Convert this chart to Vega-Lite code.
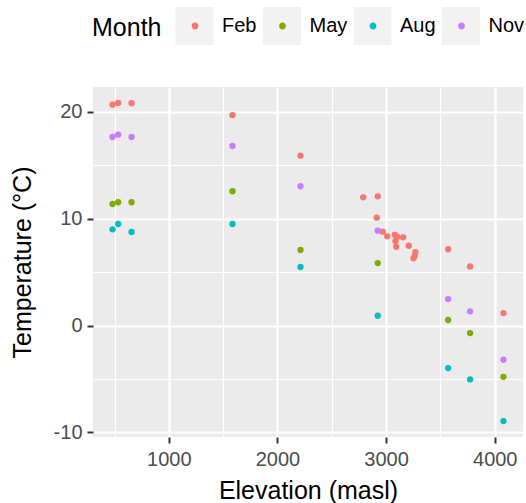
{
  "$schema": "https://vega.github.io/schema/vega-lite/v6.json",
  "width": 430,
  "height": 350,
  "autosize": {"type": "none"},
  "padding": {"left": 93, "top": 87, "right": 3, "bottom": 66},
  "background": "white",
  "config": {
    "font": "Liberation Sans",
    "view": {"fill": "#EBEBEB", "stroke": null},
    "axis": {
      "labelFontSize": 20,
      "labelColor": "#4D4D4D",
      "tickColor": "#333333",
      "tickWidth": 2,
      "tickSize": 6,
      "domain": false,
      "titleFontSize": 25,
      "titleFontWeight": "normal",
      "titleColor": "black",
      "gridColor": "white"
    }
  },
  "data": {
    "values": [
      {"Month": "Feb", "Elevation": 482, "Temperature": 20.68},
      {"Month": "Feb", "Elevation": 534, "Temperature": 20.84},
      {"Month": "Feb", "Elevation": 657, "Temperature": 20.81},
      {"Month": "Feb", "Elevation": 1586, "Temperature": 19.69},
      {"Month": "Feb", "Elevation": 2212, "Temperature": 15.9},
      {"Month": "Feb", "Elevation": 2789, "Temperature": 12.0},
      {"Month": "Feb", "Elevation": 2923, "Temperature": 12.1},
      {"Month": "Feb", "Elevation": 2914, "Temperature": 10.1},
      {"Month": "Feb", "Elevation": 2969, "Temperature": 8.79},
      {"Month": "Feb", "Elevation": 3010, "Temperature": 8.35},
      {"Month": "Feb", "Elevation": 3080, "Temperature": 8.48},
      {"Month": "Feb", "Elevation": 3102, "Temperature": 8.32},
      {"Month": "Feb", "Elevation": 3086, "Temperature": 7.91},
      {"Month": "Feb", "Elevation": 3157, "Temperature": 8.26},
      {"Month": "Feb", "Elevation": 3093, "Temperature": 7.38},
      {"Month": "Feb", "Elevation": 3209, "Temperature": 7.47},
      {"Month": "Feb", "Elevation": 3270, "Temperature": 6.88},
      {"Month": "Feb", "Elevation": 3264, "Temperature": 6.54},
      {"Month": "Feb", "Elevation": 3252, "Temperature": 6.29},
      {"Month": "Feb", "Elevation": 3571, "Temperature": 7.14},
      {"Month": "Feb", "Elevation": 3773, "Temperature": 5.54},
      {"Month": "Feb", "Elevation": 4080, "Temperature": 1.17},
      {"Month": "May", "Elevation": 482, "Temperature": 11.38},
      {"Month": "May", "Elevation": 534, "Temperature": 11.54},
      {"Month": "May", "Elevation": 657, "Temperature": 11.54},
      {"Month": "May", "Elevation": 1586, "Temperature": 12.57},
      {"Month": "May", "Elevation": 2212, "Temperature": 7.07},
      {"Month": "May", "Elevation": 2923, "Temperature": 5.85},
      {"Month": "May", "Elevation": 3571, "Temperature": 0.52},
      {"Month": "May", "Elevation": 3773, "Temperature": -0.7},
      {"Month": "May", "Elevation": 4080, "Temperature": -4.8},
      {"Month": "Aug", "Elevation": 482, "Temperature": 9.01},
      {"Month": "Aug", "Elevation": 534, "Temperature": 9.51},
      {"Month": "Aug", "Elevation": 657, "Temperature": 8.76},
      {"Month": "Aug", "Elevation": 1586, "Temperature": 9.51},
      {"Month": "Aug", "Elevation": 2212, "Temperature": 5.48},
      {"Month": "Aug", "Elevation": 2923, "Temperature": 0.92},
      {"Month": "Aug", "Elevation": 3571, "Temperature": -3.98},
      {"Month": "Aug", "Elevation": 3773, "Temperature": -5.04},
      {"Month": "Aug", "Elevation": 4080, "Temperature": -8.94},
      {"Month": "Nov", "Elevation": 482, "Temperature": 17.65},
      {"Month": "Nov", "Elevation": 534, "Temperature": 17.87},
      {"Month": "Nov", "Elevation": 657, "Temperature": 17.65},
      {"Month": "Nov", "Elevation": 1586, "Temperature": 16.81},
      {"Month": "Nov", "Elevation": 2212, "Temperature": 13.04},
      {"Month": "Nov", "Elevation": 2923, "Temperature": 8.88},
      {"Month": "Nov", "Elevation": 3571, "Temperature": 2.48},
      {"Month": "Nov", "Elevation": 3773, "Temperature": 1.33},
      {"Month": "Nov", "Elevation": 4080, "Temperature": -3.2}
    ]
  },
  "layer": [
    {
      "mark": {"type": "point", "filled": true, "opacity": 0, "color": "#F2F2F2"},
      "encoding": {
        "x": {
          "field": "Elevation", "type": "quantitative",
          "scale": {"domain": [302, 4260], "nice": false, "zero": false},
          "axis": {"orient": "top", "values": [500, 1500, 2500, 3500], "grid": true, "gridWidth": 1.1, "labels": false, "ticks": false, "domain": false, "title": null}
        },
        "y": {
          "field": "Temperature", "type": "quantitative",
          "scale": {"domain": [-10.43, 22.33], "nice": false, "zero": false},
          "axis": {"orient": "right", "values": [-5, 5, 15], "grid": true, "gridWidth": 1.1, "labels": false, "ticks": false, "domain": false, "title": null}
        },
        "shape": {
          "field": "Month", "type": "nominal",
          "sort": ["Feb", "May", "Aug", "Nov"],
          "scale": {"range": ["square", "square", "square", "square"]},
          "legend": {
            "orient": "none", "legendX": 82.5, "legendY": -80, "direction": "horizontal",
            "title": null,
            "symbolSize": 1444, "symbolStrokeWidth": 0, "symbolType": "square",
            "labelFontSize": 20, "labelOffset": 8, "labelOpacity": 0, "labelColor": "black",
            "columnPadding": 6.5, "padding": 0
          }
        }
      }
    },
    {
      "mark": {"type": "point", "filled": true, "opacity": 1, "size": 40},
      "encoding": {
        "x": {
          "field": "Elevation", "type": "quantitative",
          "axis": {"orient": "bottom", "values": [1000, 2000, 3000, 4000], "labelExpr": "'' + datum.value", "grid": true, "gridWidth": 2.2, "title": "Elevation (masl)", "labelPadding": 6, "titlePadding": 9}
        },
        "y": {
          "field": "Temperature", "type": "quantitative",
          "axis": {"orient": "left", "values": [-10, 0, 10, 20], "labelExpr": "'' + datum.value", "grid": true, "gridWidth": 2.2, "title": "Temperature (°C)", "labelPadding": 5, "titlePadding": 18}
        },
        "color": {
          "field": "Month", "type": "nominal",
          "scale": {"domain": ["Feb", "May", "Aug", "Nov"], "range": ["#F8766D", "#7CAE00", "#00BFC4", "#C77CFF"]},
          "legend": {
            "orient": "none", "legendX": -1, "legendY": -80, "direction": "horizontal",
            "title": "Month", "titleOrient": "left", "titleFontSize": 25, "titleFontWeight": "normal",
            "titleColor": "black", "titlePadding": 14, "titleAnchor": "middle", "titleBaseline": "line-top", "titleLineHeight": 14,
            "symbolSize": 1444, "symbolStrokeWidth": 0,
            "symbolType": "M -0.18 0 A 0.18 0.18 0 1 0 0.18 0 A 0.18 0.18 0 1 0 -0.18 0 Z",
            "labelFontSize": 20, "labelOffset": 8, "labelColor": "black",
            "columnPadding": 6.5, "padding": 0, "zindex": 1
          }
        }
      }
    }
  ],
  "resolve": {"axis": {"x": "independent", "y": "independent"}}
}
